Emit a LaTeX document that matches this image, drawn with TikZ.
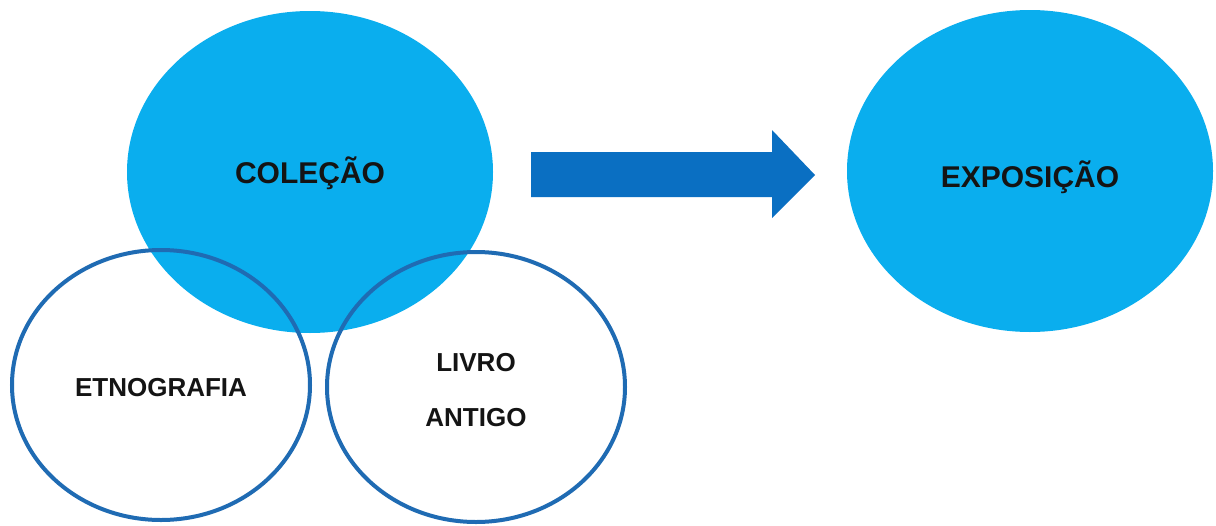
\documentclass[tikz,border=0pt]{standalone}
\usepackage{fontspec}
\setmainfont{Liberation Sans}
\usetikzlibrary{shapes.geometric}
\definecolor{fillblue}{HTML}{0AAEEE}
\definecolor{arrowblue}{HTML}{0A6FC2}
\definecolor{ringblue}{HTML}{1F6BB3}
\definecolor{txt}{HTML}{141414}
\tikzset{
  bigoval/.style={ellipse, fill=fillblue, draw=none, inner sep=0pt,
    minimum width=366pt, minimum height=322pt},
  ring/.style={ellipse, draw=ringblue, line width=4pt, fill=none, inner sep=0pt,
    minimum width=298pt, minimum height=270pt},
  bigtxt/.style={text=txt, inner sep=0pt, font=\fontsize{30}{34}\selectfont\bfseries},
  smalltxt/.style={text=txt, inner sep=0pt, align=center,
    font=\fontsize{26}{55}\selectfont\bfseries},
}
\begin{document}
\begin{tikzpicture}[x=1pt,y=-1pt]
\useasboundingbox[fill=white] (0,0) rectangle (1216,525);
\node[bigoval] (colecao) at (310,172) {};
\node[bigoval] (exposicao) at (1030,171) {};
\node[ring] (etno) at (161,385) {};
\node[ring] (livro) at (476,387) {};
\node[bigtxt] (colecaotxt) at ([yshift=-1pt]colecao.center) {COLEÇÃO};
\node[bigtxt] (exposicaotxt) at ([yshift=-6pt]exposicao.center) {EXPOSIÇÃO};
\node[smalltxt] (etnotxt) at ([yshift=-3pt]etno.center) {ETNOGRAFIA};
\node[smalltxt] (livrotxt) at ([yshift=-3pt]livro.center) {LIVRO\\ANTIGO};
\fill[arrowblue] (531,152) -- (772,152) -- (772,130) -- (815,175)
  -- (772,218) -- (772,197) -- (531,197) -- cycle;
\end{tikzpicture}
\end{document}
